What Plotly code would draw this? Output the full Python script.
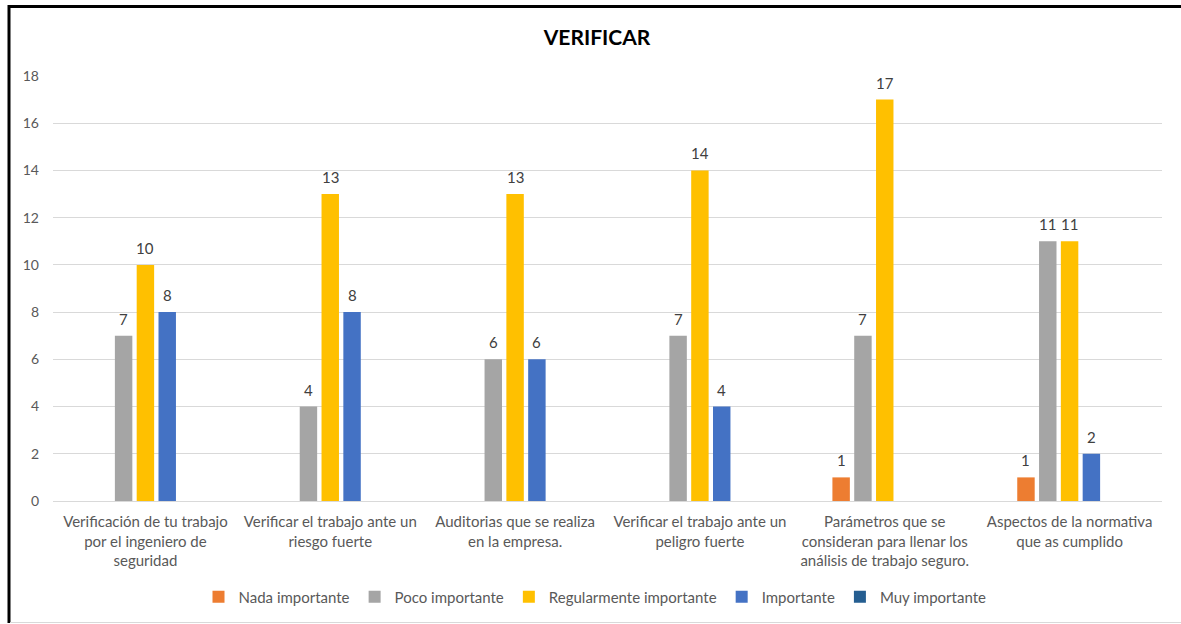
import plotly.graph_objects as go

# Survey results for the "VERIFICAR" block
categorias = [
    "Verificación de tu trabajo<br>por el ingeniero de<br>seguridad",
    "Verificar el trabajo ante un<br>riesgo fuerte",
    "Auditorias que se realiza<br>en la empresa.",
    "Verificar el trabajo ante un<br>peligro fuerte",
    "Parámetros que se<br>consideran para llenar los<br>análisis de trabajo seguro.",
    "Aspectos de la normativa<br>que as cumplido",
]

nada_importante = [0, 0, 0, 0, 1, 1]
poco_importante = [7, 4, 6, 7, 7, 11]
regularmente_importante = [10, 13, 13, 14, 17, 11]
importante = [8, 8, 6, 4, 0, 2]
muy_importante = [0, 0, 0, 0, 0, 0]

series = [
    ("Nada importante", nada_importante, "#ED7D31"),
    ("Poco importante", poco_importante, "#A5A5A5"),
    ("Regularmente importante", regularmente_importante, "#FFC000"),
    ("Importante", importante, "#4472C4"),
    ("Muy importante", muy_importante, "#255E91"),
]

y_ticks = [0, 2, 4, 6, 8, 10, 12, 14, 16, 18]

FONT = "Lato"
W, H = 1181, 624
ML, MR, MT, MB = 53, 19, 76, 123
BARGAP = 0.41
BARGROUPGAP = 0.2

fig = go.Figure()
for name, vals, color in series:
    fig.add_trace(go.Bar(
        x=categorias,
        y=vals,
        name=name,
        marker=dict(color=color, line=dict(width=0)),
        hoverinfo="x+y+name",
    ))

pw = W - ML - MR
ph = H - MT - MB

# width of one trace slot inside a category group, in pixels
n_series = len(series)
slot_px = pw / len(categorias) * (1 - BARGAP) / n_series

# value labels above each non-zero bar
labels = []
for i, (name, vals, color) in enumerate(series):
    for cat, v in zip(categorias, vals):
        if v:
            labels.append(dict(
                x=cat, y=v, xref="x", yref="y",
                text=str(v), showarrow=False,
                xshift=(i - (n_series - 1) / 2) * slot_px,
                yshift=17, yanchor="middle",
                font=dict(family=FONT, size=15, color="#404040"),
            ))


# helpers converting page pixels into paper coordinates for the frame
def px_x(px):
    return (px - ML) / pw


def px_y(py):
    return (H - MB - py) / ph


frame = [
    dict(type="line", xref="paper", yref="paper",
         x0=px_x(9), x1=px_x(W + 5), y0=px_y(6.5), y1=px_y(6.5),
         line=dict(color="#000000", width=3)),
    dict(type="line", xref="paper", yref="paper",
         x0=px_x(9), x1=px_x(9), y0=px_y(5), y1=px_y(623),
         line=dict(color="#000000", width=3)),
    dict(type="line", xref="paper", yref="paper",
         x0=px_x(10), x1=px_x(W + 5), y0=px_y(622.5), y1=px_y(622.5),
         line=dict(color="#D9D9D9", width=1)),
]

fig.update_layout(
    width=W,
    height=H,
    paper_bgcolor="white",
    plot_bgcolor="white",
    margin=dict(l=ML, r=MR, t=MT, b=MB, autoexpand=False),
    barmode="group",
    bargap=BARGAP,
    bargroupgap=BARGROUPGAP,
    font=dict(family=FONT, color="#595959"),
    title=dict(
        text="<b>VERIFICAR</b>",
        x=597 / W, xref="container", xanchor="center",
        y=1 - 38 / H, yref="container", yanchor="middle",
        font=dict(family=FONT, size=21, color="#000000"),
    ),
    xaxis=dict(
        showgrid=False,
        showline=False,
        ticks="",
        ticklabelstandoff=10,
        tickfont=dict(family=FONT, size=15, color="#595959"),
        tickangle=0,
    ),
    yaxis=dict(
        range=[0, 18],
        tickvals=y_ticks,
        ticktext=[str(v) for v in y_ticks],
        showgrid=True,
        gridcolor="#D9D9D9",
        gridwidth=1,
        zeroline=True,
        zerolinecolor="#D9D9D9",
        zerolinewidth=1,
        showline=False,
        ticks="",
        ticklabelstandoff=13,
        tickfont=dict(family=FONT, size=14, color="#595959"),
    ),
    legend=dict(
        orientation="h",
        x=(595 - ML) / pw, xanchor="center",
        y=px_y(597), yanchor="middle",
        font=dict(family=FONT, size=15, color="#595959"),
        itemwidth=30,
        traceorder="normal",
    ),
    annotations=labels,
    shapes=frame,
)

fig.write_html("out.html")
